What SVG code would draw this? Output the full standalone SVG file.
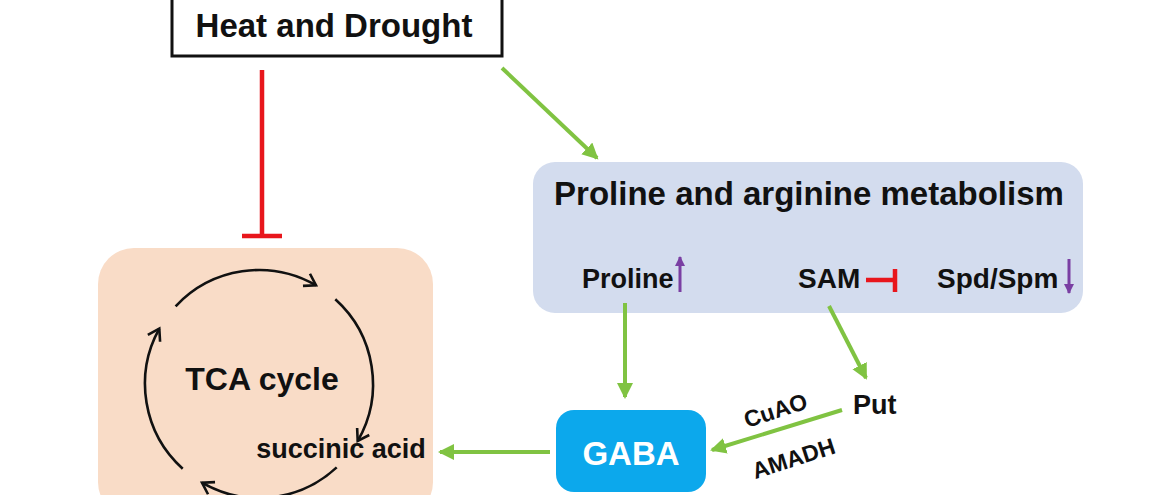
<svg xmlns="http://www.w3.org/2000/svg" width="1165" height="495" viewBox="0 0 1165 495">
<style>
text{font-family:"Liberation Sans",Arial,sans-serif;font-weight:bold;fill:#111}
.g{stroke:#80c342;stroke-width:4;fill:none;marker-end:url(#ga)}
.r{stroke:#e8161c;stroke-width:4.5;fill:none}
.p{stroke:#7a3fa3;stroke-width:3;fill:none;marker-end:url(#pa)}
.c{stroke:#111;stroke-width:2.6;fill:none;marker-end:url(#ca)}
</style>
<defs>
<marker id="ga" markerUnits="userSpaceOnUse" markerWidth="18" markerHeight="18" refX="14" refY="8" orient="auto"><path d="M0,0 L16,8 L0,16 z" fill="#80c342"/></marker>
<marker id="pa" markerUnits="userSpaceOnUse" markerWidth="12" markerHeight="12" refX="9" refY="5" orient="auto"><path d="M0,0 L10,5 L0,10 z" fill="#7a3fa3"/></marker>
<marker id="ca" markerUnits="userSpaceOnUse" markerWidth="18" markerHeight="18" refX="13" refY="8" orient="auto"><path d="M2,1 L13,8 L2,15" fill="none" stroke="#111" stroke-width="2.6"/></marker>
</defs>
<rect width="1165" height="495" fill="#fff"/>
<g id="heat">
<rect x="172" y="-5" width="330" height="61" fill="#fff" stroke="#111" stroke-width="3"/>
<text x="334" y="37" font-size="33" text-anchor="middle">Heat and Drought</text>
</g>
<g id="tca">
<rect x="98" y="248" width="335" height="270" rx="36" fill="#f9dcc7"/>
<path class="c" d="M175.6,306.3 A114,114 0 0 1 316,285.3"/>
<path class="c" d="M335.3,299.3 A114,114 0 0 1 357.7,441"/>
<path class="c" d="M336.7,467.4 A114,114 0 0 1 202,482.7"/>
<path class="c" d="M182.7,468.7 A114,114 0 0 1 159.3,328.7"/>
<text x="262" y="390" font-size="32" text-anchor="middle">TCA cycle</text>
<text x="341" y="458" font-size="27" text-anchor="middle">succinic acid</text>
</g>
<g id="proline-arginine">
<rect x="533" y="162" width="550" height="151" rx="22" fill="#d3dcee"/>
<text x="809" y="205" font-size="33" text-anchor="middle">Proline and arginine metabolism</text>
<text x="582" y="288" font-size="27">Proline</text>
<text x="798" y="288" font-size="28">SAM</text>
<text x="937" y="288" font-size="28">Spd/Spm</text>
</g>
<g id="gaba">
<rect x="556" y="410" width="150" height="82" rx="18" fill="#0ca8ec"/>
<text x="631" y="465" font-size="33" text-anchor="middle" style="fill:#fff">GABA</text>
</g>
<g id="put">
<text x="853" y="414" font-size="27">Put</text>
</g>
<g id="connectors">
<path class="r" d="M262,70 V236 M242,236 H282"/>
<path class="g" d="M502,68 L597,158"/>
<path class="p" d="M680,292 V257"/>
<path class="p" d="M1069,259 V293"/>
<path class="r" d="M866,280 H895 M895,269 V292"/>
<path class="g" d="M625,303 V397"/>
<path class="g" d="M829,306 L866,378"/>
<path class="g" d="M842,410 L712,450"/>
<path class="g" d="M550,452 H440"/>
<text x="778" y="418" font-size="23" text-anchor="middle" transform="rotate(-18 778 418)">CuAO</text>
<text x="796" y="466" font-size="23" text-anchor="middle" transform="rotate(-18 796 466)">AMADH</text>
</g>
</svg>
